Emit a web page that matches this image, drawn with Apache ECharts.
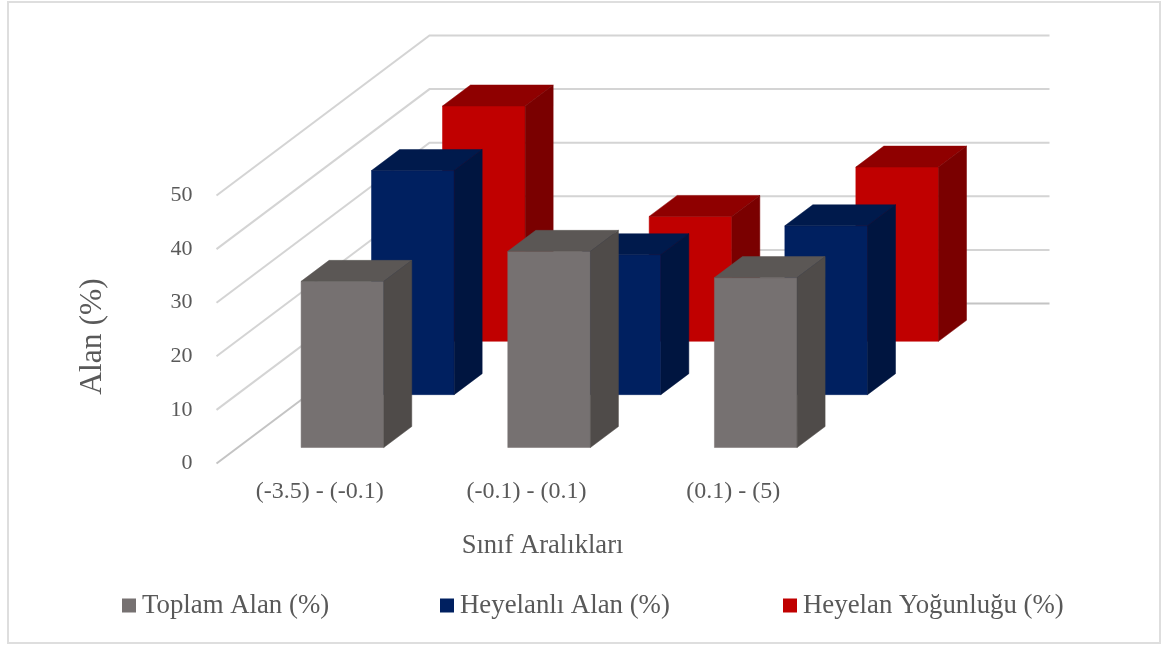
<!DOCTYPE html>
<html><head><meta charset="utf-8">
<style>html,body{margin:0;padding:0;background:#fff}#c{width:1166px;height:646px}</style>
<script src="https://cdn.jsdelivr.net/npm/echarts@6/dist/echarts.min.js"></script>
</head><body><div id="c"></div>
<script>
const categories = ['(-3.5) - (-0.1)', '(-0.1) - (0.1)', '(0.1) - (5)'];
const toplamAlan = [31.0, 36.6, 31.7];
const heyelanliAlan = [41.8, 26.1, 31.5];
const heyelanYogunlugu = [43.9, 23.3, 32.5];
const yTicks = [0, 10, 20, 30, 40, 50];

const TEXT = '#595959', FONT = '"Liberation Serif","Times New Roman",serif';
const DEPTH_X = 213, DEPTH_Y = 160, BAR_DX = 28, BAR_DY = 21, WIDTH_RATIO = 0.4;
const SLOT_DX = [22.6, 93, 164], FLOOR_NUDGE = 1;

function poly(points, fill) {
  return { type: 'polygon', shape: { points }, style: { fill, stroke: fill, lineWidth: 0.5 } };
}
function barRenderer(slot, colors) {
  return function (params, api) {
    const c = api.value(0), v = api.value(1);
    const base = api.coord([c, 0]), top = api.coord([c, v]);
    const w = api.size([1, 0])[0] * WIDTH_RATIO;
    const ox = SLOT_DX[slot], oy = ox * DEPTH_Y / DEPTH_X - FLOOR_NUDGE;
    const l = base[0] - w / 2 + ox, r = l + w, b = base[1] - oy, t = top[1] - oy;
    return { type: 'group', children: [
      poly([[l, b], [r, b], [r, t], [l, t]], colors[0]),
      poly([[l, t], [r, t], [r + BAR_DX, t - BAR_DY], [l + BAR_DX, t - BAR_DY]], colors[1]),
      poly([[r, b], [r + BAR_DX, b - BAR_DY], [r + BAR_DX, t - BAR_DY], [r, t]], colors[2])
    ]};
  };
}
function gridRenderer(params, api) {
  const v = api.value(0), sys = params.coordSys;
  const y = api.coord([0, v])[1];
  return { type: 'polyline',
    shape: { points: [[sys.x, y], [sys.x + DEPTH_X, y - DEPTH_Y], [sys.x + sys.width + DEPTH_X, y - DEPTH_Y]] },
    style: { fill: null, stroke: v === 0 ? '#c4c4c4' : '#d4d4d4', lineWidth: 2 } };
}
function pairs(arr) { return arr.map((v, i) => [i, v]); }
function barSeries(name, arr, slot, colors) {
  return { name, type: 'custom', renderItem: barRenderer(slot, colors), data: pairs(arr),
    encode: { x: 0, y: 1 }, itemStyle: { color: colors[0] }, z: 10 - slot };
}
function legendAt(name, left) {
  return { data: [name], left, top: 587, icon: 'rect', itemWidth: 14, itemHeight: 14, itemGap: 0,
    textStyle: { color: TEXT, fontFamily: FONT, fontSize: 26.8, padding: [0, 0, 0, 1] } };
}
const names = ['Toplam Alan (%)', 'Heyelanlı Alan (%)', 'Heyelan Yoğunluğu (%)'];

const chart = echarts.init(document.getElementById('c'), null, { renderer: 'canvas' });
chart.setOption({
  animation: false,
  backgroundColor: '#fff',
  grid: { left: 216.5, right: 329.5, top: 195.5, bottom: 182.5 },
  legend: [legendAt(names[0], 117), legendAt(names[1], 435), legendAt(names[2], 778)],
  graphic: [{ type: 'rect', z: -1, shape: { x: 8, y: 2, width: 1152, height: 641 },
    style: { fill: '#fff', stroke: '#dedede', lineWidth: 2 } }],
  xAxis: { type: 'category', data: categories,
    axisLine: { show: false }, axisTick: { show: false }, splitLine: { show: false },
    axisLabel: { color: TEXT, fontFamily: FONT, fontSize: 24, margin: 16 },
    name: 'Sınıf Aralıkları', nameLocation: 'middle', nameGap: 69,
    nameTextStyle: { color: TEXT, fontFamily: FONT, fontSize: 26.6, padding: [0, 0, 0, 32] } },
  yAxis: { type: 'value', min: 0, max: 50, interval: 10,
    axisLine: { show: false }, axisTick: { show: false }, splitLine: { show: false },
    axisLabel: { color: TEXT, fontFamily: FONT, fontSize: 22, margin: 24, padding: [0, 0, 6, 0] },
    name: 'Alan (%)', nameLocation: 'middle', nameGap: 108,
    nameTextStyle: { color: TEXT, fontFamily: FONT, fontSize: 31.5, padding: [0, 14, 0, 0] } },
  series: [
    { type: 'custom', name: 'grid', renderItem: gridRenderer, data: yTicks.map(v => [v]), encode: { y: 0 }, silent: true, z: 1 },
    barSeries(names[2], heyelanYogunlugu, 2, ['#c00000', '#8f0000', '#7a0000']),
    barSeries(names[1], heyelanliAlan, 1, ['#002060', '#001a4c', '#001540']),
    barSeries(names[0], toplamAlan, 0, ['#767171', '#5b5755', '#4f4b49'])
  ]
});
</script></body></html>
